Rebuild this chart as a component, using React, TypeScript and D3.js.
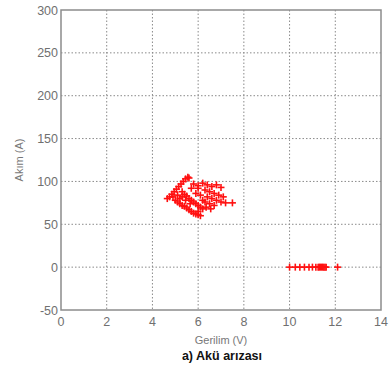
import React from "react";
import * as d3 from "d3";

const xTicks = [0, 2, 4, 6, 8, 10, 12, 14];
const yTicks = [-50, 0, 50, 100, 150, 200, 250, 300];

const clusterV = [
  4.65, 4.75, 4.85, 4.95, 5.05, 5.15, 5.25, 5.35, 5.45, 5.55, 5.6,
  5.0, 5.1, 5.2, 5.3, 5.4, 5.5, 5.6, 5.7, 5.8, 5.9, 6.0, 6.1,
  5.3, 5.4, 5.5, 5.6, 5.7, 5.8, 5.9, 6.0, 6.1, 6.2,
  5.8, 6.0, 6.2, 6.4, 6.6, 6.8, 7.0, 6.3, 6.5, 6.7, 6.9, 7.1, 6.4, 6.6, 6.8, 7.0, 7.2, 7.5,
  6.5, 6.7, 6.2, 6.3, 5.9, 6.1, 6.0, 5.7, 6.0,
  4.9, 5.1, 5.3, 5.2, 5.45, 5.65, 6.35, 6.55,
];
const clusterA = [
  80, 82, 85, 88, 91, 94, 97, 100, 103, 105, 104,
  78, 76, 74, 72, 71, 69, 67, 65, 63, 62, 61, 60,
  88, 85, 83, 80, 78, 76, 74, 72, 70, 68,
  97, 95, 98, 96, 94, 96, 93, 90, 88, 86, 84, 82, 82, 80, 78, 76, 75, 75,
  74, 72, 78, 76, 86, 84, 92, 92, 65,
  82, 84, 82, 80, 78, 74, 70, 68,
];
const lineV = [10.0, 10.25, 10.45, 10.65, 10.85, 11.0, 11.15, 11.25, 11.3, 11.35, 11.4, 11.45, 11.5, 11.55, 11.6, 12.1];
const lineA = [0, 0, 0, 0, 0, 0, 0, 0, 0, 0, 0, 0, 0, 0, 0, 0];

const xLabel = "Gerilim (V)";
const yLabel = "Akım (A)";
const caption = "a) Akü arızası";

export default function App() {
  const W = 392, H = 374;
  const L = 61, R = 381, T = 10, B = 310;
  const x = d3.scaleLinear().domain([0, 14]).range([L, R]);
  const y = d3.scaleLinear().domain([-50, 300]).range([B, T]);
  const pts = [
    ...clusterV.map((v, i) => [v, clusterA[i]]),
    ...lineV.map((v, i) => [v, lineA[i]]),
  ];
  const s = 3.5;
  const font = "'Liberation Sans', Arial, sans-serif";
  return (
    <svg width={W} height={H} style={{ position: "absolute", left: 0, top: 0, background: "#fff" }}>
      {xTicks.slice(1, -1).map((t) => (
        <line key={"gx" + t} x1={x(t)} x2={x(t)} y1={T} y2={B} stroke="#8a8a8a" strokeWidth={1} strokeDasharray="1.5,2" />
      ))}
      {yTicks.slice(1, -1).map((t) => (
        <line key={"gy" + t} x1={L} x2={R} y1={y(t)} y2={y(t)} stroke="#8a8a8a" strokeWidth={1} strokeDasharray="1.5,2" />
      ))}
      <rect x={L} y={T} width={R - L} height={B - T} fill="none" stroke="#8c8c8c" strokeWidth={1.5} />
      {pts.map(([v, a], i) => (
        <g key={i} stroke="#ff1010" strokeWidth={1.6}>
          <line x1={x(v) - s} x2={x(v) + s} y1={y(a)} y2={y(a)} />
          <line x1={x(v)} x2={x(v)} y1={y(a) - s} y2={y(a) + s} />
        </g>
      ))}
      {xTicks.map((t) => (
        <text key={"xt" + t} x={x(t)} y={B + 16} textAnchor="middle" fontSize={12.5} fill="#707070" fontFamily={font}>{t}</text>
      ))}
      {yTicks.map((t) => (
        <text key={"yt" + t} x={L - 3} y={y(t) + 4.5} textAnchor="end" fontSize={12.5} fill="#707070" fontFamily={font}>{t}</text>
      ))}
      <text x={221} y={344} textAnchor="middle" fontSize={11} fill="#777" fontFamily={font}>{xLabel}</text>
      <text transform={`translate(23,160) rotate(-90)`} textAnchor="middle" fontSize={11} fill="#777" fontFamily={font}>{yLabel}</text>
      <text x={222} y={360} textAnchor="middle" fontSize={12.5} fontWeight="bold" fill="#111" fontFamily={font}>{caption}</text>
    </svg>
  );
}
